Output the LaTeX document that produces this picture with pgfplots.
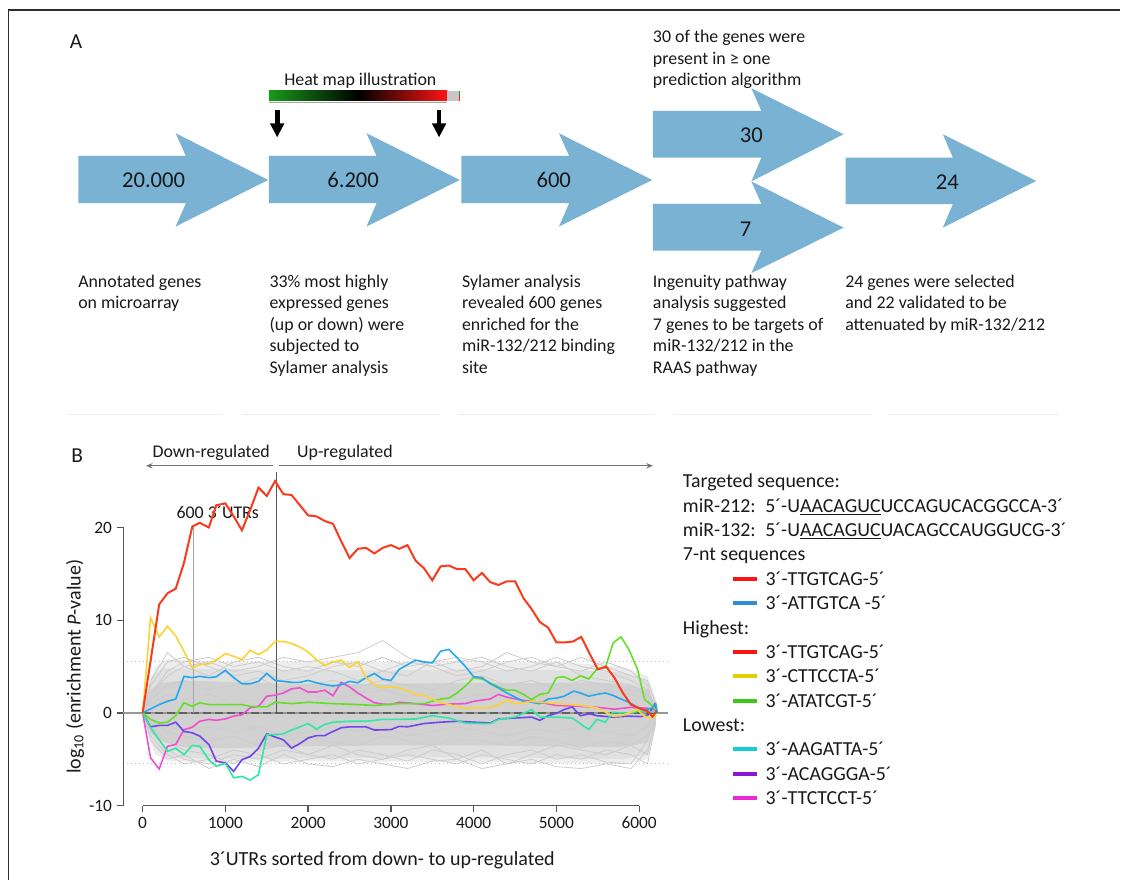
\documentclass[border=0pt]{standalone}
\usepackage{pgfplots}
\pgfplotsset{compat=1.18}
\usepackage{pgfplotstable}
\usepackage{fontspec}
\setmainfont{Carlito}
\usetikzlibrary{arrows.meta}

\definecolor{arrowblue}{RGB}{122,178,212}
\definecolor{txt}{RGB}{25,25,25}
\definecolor{axgray}{RGB}{85,85,85}
\definecolor{cred}{RGB}{248,58,30}
\definecolor{cyel}{RGB}{250,212,50}
\definecolor{cblue}{RGB}{40,168,236}
\definecolor{cgreen}{RGB}{100,222,40}
\definecolor{caqua}{RGB}{50,230,165}
\definecolor{cpurp}{RGB}{112,70,235}
\definecolor{cmag}{RGB}{238,80,210}
\definecolor{lred}{RGB}{250,20,20}
\definecolor{lblue}{RGB}{50,140,220}
\definecolor{lyel}{RGB}{225,205,0}
\definecolor{lgreen}{RGB}{60,200,20}
\definecolor{lcyan}{RGB}{20,205,210}
\definecolor{lpurp}{RGB}{140,20,215}
\definecolor{lmag}{RGB}{238,40,210}
\definecolor{hgreen}{RGB}{25,155,25}
\definecolor{hred}{RGB}{255,20,20}

\newcommand\fA{\fontsize{13.4}{16}\selectfont}
\newcommand\fN{\fontsize{17}{20}\selectfont}
\newcommand\fL{\fontsize{16}{19}\selectfont}
\newcommand\fG{\fontsize{14.9}{18}\selectfont}
\newcommand\fX{\fontsize{15}{18}\selectfont}

\pgfplotstableread{
x g1 g2 g3 g4 g5 g6 g7 g8 g9 g10 g11 g12
0 0 0 0 0 0 0 0 0 0 0 0 0
100 2 3 -2 -1.5 1.5 -1 2 -2.5 1 -0.5 3.5 -3
300 4 5.5 -4 -3 3 -2 4.5 -4.5 2 -1.5 6.5 -5
500 5 6 -5 -4 3.5 -2.5 5.5 -5.5 1.5 -2 5 -4.5
800 5.5 5 -5.5 -4.5 2.5 -3 6 -5 2 -1.5 4 -6
1100 4.5 4 -4.5 -5.5 3 -2.5 5 -4 1 -2 5.5 -5
1400 5 4.5 -5 -4 3.8 -3.5 5.5 -4.5 1.5 -1.5 6 -5.8
1700 6 3.5 -4 -3.5 2.5 -3 4.5 -5.5 2.5 -2.5 5 -4.5
2000 5.5 4 -4.5 -4.5 3 -2.5 5 -5 2 -2 4.5 -5.5
2300 6 5 -5 -3.5 3.5 -3.2 4.5 -4.5 1.5 -1.5 5.5 -5.8
2600 6.5 5.5 -4 -4.5 2.8 -3.5 3.5 -5.5 2 -2 5 -5
2900 7.8 4.5 -4.5 -5 3.5 -2.5 4.5 -5 2.5 -1.5 6 -5.5
3200 6 4 -5.2 -4 3 -3 5.5 -4.5 1.8 -2.5 5 -6
3500 5 5.5 -4 -3.5 2.5 -3.5 5 -5 2 -2 5.5 -5.2
3800 5.5 6 -4.5 -5 3.5 -2.8 4 -5.5 1.5 -1.5 4.5 -5
4100 6 5.5 -5.5 -4 4 -3 4.5 -4.5 2 -2 5 -6
4400 5 4.5 -4.5 -5.5 3 -3.5 5.5 -5 2.5 -2.5 6.5 -5.5
4700 4.5 5 -4 -4.5 3.5 -2.5 6 -5.5 2 -1.8 5.5 -5
5000 5.5 6 -5 -3.5 2.5 -3 5 -4.5 1.5 -2 5 -5.8
5300 4 5 -4.5 -4 3.5 -3.8 4.5 -5 2 -1.5 6 -6
5600 3.5 4.5 -5.3 -4.5 3 -3 5.5 -4 2.5 -2 5 -5.5
5900 3 3.5 -5.5 -3.5 2.5 -3.5 4.5 -4.5 2 -2.5 4 -6
6100 2 2.5 -3 -4.5 2 -2.5 3 -5.5 1.5 -1.5 3.5 -4
6200 0.5 0 0 -0.5 0.5 -0.3 0.2 -1 0 0 1 -1
}\graylines

\begin{document}
\begin{tikzpicture}
\begin{scope}[x=0.75pt,y=-0.75pt,every node/.style={inner sep=0pt,outer sep=0pt,text=txt}]
\path (0,0) rectangle (1121,880);
% frame
\draw[line width=0.8pt,color={rgb,255:red,45;green,45;blue,45}] (8.3,880) -- (8.3,10) -- (1121,10);
% faint separators
\foreach \a/\b in {67/223,242/440,458/655,673/873,888/1058}
  \draw[color=black!7,line width=1pt] (\a,415) -- (\b,415);
% panel labels
\node[anchor=base west,font=\fL] at (70,48.3) {A};
\node[anchor=base west,font=\fL] at (71.5,462.7) {B};
% block arrows
\fill[arrowblue] (78.3,156)--(186,156)--(175.7,133.3)--(268.3,180)--(175.7,226.7)--(186,203.3)--(78.3,203.3)--cycle;
\fill[arrowblue] (269,156)--(376.7,156)--(366.7,133.3)--(460,180)--(366.7,226.7)--(376.7,203.3)--(269,203.3)--cycle;
\fill[arrowblue] (461.7,156)--(569.4,156)--(559.2,133.3)--(652.5,180)--(559.2,226.7)--(569.4,203.3)--(461.7,203.3)--cycle;
\fill[arrowblue] (653.3,111)--(761.7,111)--(751.7,88.3)--(844,134.3)--(751.7,181.5)--(761.7,157.7)--(653.3,157.7)--cycle;
\fill[arrowblue] (653.3,204)--(761.7,204)--(751.7,181.5)--(844,227.7)--(751.7,273.3)--(761.7,250.7)--(653.3,250.7)--cycle;
\fill[arrowblue] (846,157.7)--(953.3,157.7)--(943.3,134.3)--(1036.7,181)--(943.3,227.7)--(953.3,204.3)--(846,204.3)--cycle;
\node[font=\fN] at (153.7,180) {20.000};
\node[font=\fN] at (353.3,180) {6.200};
\node[font=\fN] at (554,180) {600};
\node[font=\fN] at (751.7,135) {30};
\node[font=\fN] at (746,229) {7};
\node[font=\fN] at (947.7,182.7) {24};
% heat map
\node[anchor=base,font=\fA] at (360.5,86) {Heat map illustration};
\shade[left color=hgreen,right color=hred,middle color=black] (269,90.7) rectangle (447.7,101);
\fill[black!22] (447.7,90.7) rectangle (459,101);
\fill[hgreen] (459,90.7) rectangle (460.3,95.8);
\fill[hred] (459,95.8) rectangle (460.3,101);
\draw[black!35,line width=0.6pt] (269,102.6) -- (447.7,102.6);
\draw[line width=3.5pt,-{Triangle[width=10pt,length=10.5pt]}] (277.3,110) -- (277.3,137.5);
\draw[line width=3.5pt,-{Triangle[width=10pt,length=10.5pt]}] (439.3,110) -- (439.3,137.5);
% text blocks
\begin{scope}[every node/.append style={anchor=base west,font=\fA}]
\node at (653.3,42.7) {30 of the genes were};
\node at (653.3,64.3) {present in ≥ one};
\node at (653.3,85.9) {prediction algorithm};
\node at (78.3,287.3) {Annotated genes};
\node at (78.3,308.9) {on microarray};
\node at (269.7,287.3) {33\% most highly};
\node at (269.7,308.9) {expressed genes};
\node at (269.7,330.5) {(up or down) were};
\node at (269.7,352.1) {subjected to};
\node at (269.7,373.7) {Sylamer analysis};
\node at (462.3,287.3) {Sylamer analysis};
\node at (462.3,308.9) {revealed 600 genes};
\node at (462.3,330.5) {enriched for the};
\node at (462.3,352.1) {miR-132/212 binding};
\node at (462.3,373.7) {site};
\node at (653.3,287.3) {Ingenuity pathway};
\node at (653.3,308.9) {analysis suggested};
\node at (653.3,330.5) {7 genes to be targets of};
\node at (653.3,352.1) {miR-132/212 in the};
\node at (653.3,373.7) {RAAS pathway};
\node at (845.7,287.3) {24 genes were selected};
\node at (845.7,308.9) {and 22 validated to be};
\node at (845.7,330.5) {attenuated by miR-132/212};
% panel B annotations
\node at (152.7,458) {Down-regulated};
\node at (297.3,458) {Up-regulated};
\node at (176.7,518.4) {600 3´UTRs};
\end{scope}
\draw[color=black!55,line width=0.9pt,-{Stealth[length=5pt,width=4pt]}] (273.3,466) -- (146,466);
\draw[color=black!55,line width=0.9pt,-{Stealth[length=5pt,width=4pt]}] (279.3,466) -- (653.3,466);
% axis labels
\node[font=\fX,anchor=base] at (382.5,866) {3´UTRs sorted from down- to up-regulated};
\node[font=\fX,rotate=90] at (75,667) {log\textsubscript{10} (enrichment \textit{P}-value)};
% legend
\begin{scope}[every node/.append style={anchor=base west,font=\fG}]
\node at (683.3,488) {Targeted sequence:};
\node at (683.3,512.4) {miR-212:};
\node at (765.7,512.4) {5´-U\underline{AACAGUC}UCCAGUCACGGCCA-3´};
\node at (683.3,536.8) {miR-132:};
\node at (765.7,536.8) {5´-U\underline{AACAGUC}UACAGCCAUGGUCG-3´};
\node at (683.3,561.2) {7-nt sequences};
\node at (766,585.6) {3´-TTGTCAG-5´};
\node at (766,610) {3´-ATTGTCA -5´};
\node at (683.3,634.3) {Highest:};
\node at (766,658.7) {3´-TTGTCAG-5´};
\node at (766,683.1) {3´-CTTCCTA-5´};
\node at (766,707.5) {3´-ATATCGT-5´};
\node at (683.3,731.9) {Lowest:};
\node at (766,756.3) {3´-AAGATTA-5´};
\node at (766,780.7) {3´-ACAGGGA-5´};
\node at (766,805.1) {3´-TTCTCCT-5´};
\end{scope}
\foreach \yy/\cc in {579.1/lred,603.5/lblue,652.2/lred,676.6/lyel,701/lgreen,749.8/lcyan,774.2/lpurp,798.6/lmag}
  \draw[\cc,line width=3pt] (733.3,\yy) -- (757.3,\yy);
\end{scope}

\begin{axis}[
  at={(92.475pt,-604.5pt)}, anchor=south west,
  scale only axis, width=387.15pt, height=208.7pt,
  xmin=-234.3, xmax=6000, ymin=-10, ymax=20,
  clip=false,
  axis x line*=bottom, axis y line*=left,
  axis line style={-},
  x axis line style={draw=none},
  y axis line style={draw=axgray,line width=1pt},
  xtick={0,1000,2000,3000,4000,5000,6000},
  xticklabels={0,1000,2000,3000,4000,5000,6000},
  ytick={-10,0,10,20},
  yticklabels={-10,0,10,20},
  tick align=outside,
  major tick length=5pt,
  tick style={draw=axgray,line width=1pt},
  ticklabel style={font=\fontsize{13}{15}\selectfont,text=txt},
  /pgf/number format/assume math mode=true,
]
\draw[axgray,line width=1pt] (axis cs:0,-10) -- (axis cs:6000,-10);
% gray background band (three density layers)
\addplot[fill=black!7,draw=none] coordinates {(0,0)(50,2.5)(150,5)(300,5.8)(1000,5.5)(2000,5.6)(3000,5.5)(4000,5.6)(5000,5.5)(5800,5)(6100,4)(6200,1.5)(6200,-1.5)(6100,-5)(5800,-5.5)(4000,-5.3)(2000,-5.2)(1000,-5.4)(300,-5.2)(150,-4.5)(50,-2)(0,0)};
\addplot[fill=black!12,draw=none] coordinates {(0,0)(50,2)(120,4)(250,4.8)(1000,4.7)(2000,4.6)(3000,4.6)(4000,4.7)(5000,4.6)(5800,4.4)(6100,3.5)(6200,1.2)(6200,-1.2)(6100,-4.5)(5800,-5)(5000,-4.9)(4000,-4.8)(3000,-4.8)(2000,-4.9)(1000,-5)(300,-4.8)(150,-3.8)(50,-1.6)(0,0)};
\addplot[fill=black!18,draw=none] coordinates {(0,0)(40,1.2)(100,2.5)(200,3.2)(500,3.5)(1500,3.2)(2500,3.1)(3500,3.2)(4500,3.2)(5500,3.3)(5900,3.0)(6100,2.5)(6200,0.8)(6200,-0.8)(6100,-3.2)(5800,-3.7)(5000,-3.6)(4000,-3.5)(3000,-3.5)(2000,-3.6)(1000,-3.8)(500,-3.7)(200,-3)(100,-2)(40,-1)(0,0)};
\pgfplotsinvokeforeach{1,...,12}{
  \addplot[color=black!20,line width=0.6pt] table[x=x,y=g#1]{\graylines};
}
% reference lines
\addplot[color=black!25,line width=0.8pt,dash pattern=on 1pt off 2pt] coordinates {(-190,5.5)(6350,5.5)};
\addplot[color=black!25,line width=0.8pt,dash pattern=on 1pt off 2pt] coordinates {(-190,-5.45)(6350,-5.45)};
\addplot[color=black!40,line width=1pt] coordinates {(-234.3,0)(6350,0)};
\addplot[color=black!62,line width=1.3pt,dash pattern=on 6pt off 3pt] coordinates {(0,0)(6200,0)};
\addplot[color=black!35,line width=0.8pt] coordinates {(610,20)(610,0)};
\addplot[color=black!65,line width=0.9pt] coordinates {(1620,26)(1620,0)};
% coloured series
\addplot[color=cmag,line width=1.2pt] coordinates {(0,0)(96,-4.85)(200,-6.05)(300,-3.6)(400,-3.4)(500,-1.8)(600,-1.55)(690,-0.9)(800,-0.7)(890,-0.8)(1000,-0.65)(1100,-0.35)(1200,-0.2)(1300,0.55)(1400,0.7)(1500,1.8)(1600,1.9)(1700,2.15)(1800,2.6)(1900,2.7)(2000,2.25)(2100,2.25)(2200,2.45)(2300,1.85)(2400,3.3)(2500,2.8)(2600,2.15)(2700,1.6)(2800,1.1)(2900,0.95)(3000,0.9)(3100,1.15)(3300,1.0)(3500,0.8)(3700,0.95)(3900,1.0)(4000,1.25)(4200,1.5)(4300,2.0)(4400,1.7)(4600,1.35)(4800,1.15)(5000,0.8)(5200,0.75)(5500,0.6)(5700,0.4)(5900,0.6)(6100,0.5)(6200,0.3)};
\addplot[color=cpurp,line width=1.2pt] coordinates {(0,0)(96,-1.5)(200,-1.35)(300,-1.35)(400,-1.0)(500,-2.0)(600,-2.15)(690,-2.5)(800,-3.4)(890,-5.2)(1000,-5.4)(1100,-6.3)(1200,-5.05)(1300,-4.7)(1400,-3.8)(1500,-2.25)(1600,-2.6)(1700,-2.9)(1800,-3.8)(1900,-3.3)(2000,-2.7)(2100,-2.45)(2200,-2.45)(2300,-2.0)(2400,-1.6)(2500,-1.5)(2700,-1.5)(2800,-1.85)(3000,-1.8)(3100,-1.45)(3200,-1.5)(3400,-1.15)(3600,-1.0)(3800,-0.9)(4000,-1.0)(4200,-1.1)(4300,-0.65)(4500,-0.55)(4700,-0.45)(4800,-0.8)(4900,-0.3)(5000,-0.05)(5090,0.35)(5190,0.65)(5290,-0.3)(5400,-0.1)(5490,-0.3)(5680,-0.45)(5875,-0.35)(6020,-0.4)(6110,-0.2)(6185,0.9)(6220,0)};
\addplot[color=caqua,line width=1.2pt] coordinates {(0,0)(96,-1.6)(200,-2.9)(300,-4.15)(400,-3.8)(500,-4.5)(600,-3.5)(690,-3.6)(800,-5.05)(890,-5.75)(1000,-5.45)(1100,-7.0)(1200,-6.85)(1300,-7.25)(1400,-6.65)(1500,-2.35)(1600,-2.35)(1700,-2.25)(1800,-1.85)(1900,-1.5)(2000,-1.15)(2100,-1.75)(2200,-1.25)(2300,-1.0)(2500,-0.9)(2700,-0.9)(2900,-0.7)(3100,-0.7)(3300,-0.65)(3500,-0.3)(3700,-0.55)(3900,-1.1)(4100,-1.15)(4200,-1.15)(4300,-0.7)(4500,-0.45)(4700,0.35)(4800,-0.45)(5000,-0.45)(5190,-0.55)(5390,-1.8)(5490,-0.7)(5590,-1.0)(5680,0.05)(5875,0)(6020,0.2)(6160,0.1)(6220,0)};
\addplot[color=cgreen,line width=1.2pt] coordinates {(0,0)(96,-0.7)(200,-1.1)(300,-1.0)(400,-0.3)(500,1.1)(600,0.7)(690,1.1)(800,0.9)(1000,0.9)(1200,0.9)(1300,0.7)(1500,0.65)(1600,1.15)(1800,1.0)(2000,1.15)(2300,1.0)(2600,0.9)(2800,0.8)(3100,1.0)(3400,1.0)(3600,1.5)(3700,1.6)(3800,2.15)(3900,2.9)(4000,3.8)(4100,3.65)(4200,3.25)(4300,2.8)(4400,2.45)(4500,2.45)(4600,2.0)(4700,1.45)(4800,2.0)(4900,2.15)(5000,3.8)(5090,3.9)(5190,3.5)(5290,4.0)(5390,3.65)(5490,4.75)(5590,4.85)(5685,7.55)(5780,8.2)(5875,6.85)(5980,4.7)(6065,1.45)(6140,0.9)(6210,0.3)};
\addplot[color=cblue,line width=1.2pt] coordinates {(0,0)(200,0.9)(300,1.25)(400,1.5)(500,3.95)(600,3.8)(690,3.95)(800,3.8)(890,3.9)(1000,4.6)(1100,3.8)(1200,3.15)(1300,3.15)(1400,3.4)(1500,4.25)(1600,3.5)(1700,3.4)(1800,3.3)(1900,3.3)(2000,3.5)(2100,3.25)(2200,3.05)(2300,2.9)(2400,3.05)(2500,3.4)(2600,3.25)(2700,3.8)(2800,4.25)(2900,3.65)(3000,3.5)(3100,4.7)(3200,5.2)(3300,5.7)(3400,5.5)(3500,5.4)(3600,6.65)(3700,6.85)(3800,5.95)(3900,5.0)(4000,3.9)(4100,3.8)(4200,3.15)(4300,2.7)(4400,2.15)(4500,1.7)(4600,1.25)(4700,1.15)(4800,1.0)(4900,1.5)(5000,1.6)(5090,1.8)(5210,2.35)(5290,2.15)(5390,1.8)(5490,2.0)(5590,2.15)(5680,1.9)(5780,1.5)(5875,1.15)(5970,0.65)(6065,0.3)(6160,0.55)(6200,1.0)(6220,0)};
\addplot[color=cyel,line width=1.2pt] coordinates {(0,0)(96,10.25)(200,8.2)(300,9.35)(400,8.3)(500,6.65)(600,4.85)(690,5.2)(800,5.3)(890,5.7)(1000,6.4)(1100,6.1)(1200,5.75)(1300,6.75)(1400,6.3)(1500,6.8)(1600,7.7)(1700,7.7)(1800,7.5)(1900,7.1)(2000,6.55)(2100,5.75)(2200,5.1)(2300,5.5)(2400,5.7)(2500,4.9)(2600,5.5)(2700,3.8)(2800,3.05)(2900,2.7)(3000,2.8)(3100,2.7)(3200,2.35)(3300,2.0)(3400,1.9)(3500,1.5)(3600,1.15)(3700,0.9)(3800,0.7)(3900,0.45)(4000,0.55)(4100,0.55)(4200,0.55)(4300,0.9)(4400,1.35)(4500,1.0)(4600,1.1)(4700,1.25)(4800,1.15)(4900,1.1)(5000,1.0)(5300,0.8)(5490,0.55)(5590,0.1)(5680,-0.35)(5780,-0.3)(5875,0)(5980,0.35)(6060,-0.35)(6140,-0.55)(6210,-0.2)};
\addplot[color=cred,line width=1.5pt] coordinates {(0,0)(200,11.7)(300,12.9)(400,13.4)(500,16.2)(600,20.1)(690,20.5)(800,20.0)(890,22.4)(1000,22.6)(1100,21.2)(1200,19.7)(1300,21.9)(1400,24.3)(1500,23.4)(1600,25.0)(1700,23.6)(1800,23.5)(1900,22.4)(2000,21.3)(2100,21.2)(2200,20.7)(2300,20.4)(2400,18.5)(2500,16.7)(2600,17.7)(2700,17.8)(2800,17.2)(2900,17.8)(3000,18.1)(3100,17.7)(3200,18.1)(3300,16.4)(3400,15.6)(3500,14.3)(3600,15.8)(3700,15.9)(3800,15.5)(3900,15.5)(4000,14.3)(4100,15.1)(4200,14.1)(4300,13.8)(4400,14.2)(4500,14.2)(4600,12.4)(4700,11.2)(4800,9.8)(4900,9.2)(5000,7.6)(5100,7.6)(5200,7.7)(5300,8.2)(5400,6.4)(5500,4.7)(5600,5.0)(5700,3.8)(5800,2.2)(5900,0.9)(6000,0.5)(6100,0.2)(6160,-0.4)(6210,0.2)};
\end{axis}
\end{tikzpicture}
\end{document}
